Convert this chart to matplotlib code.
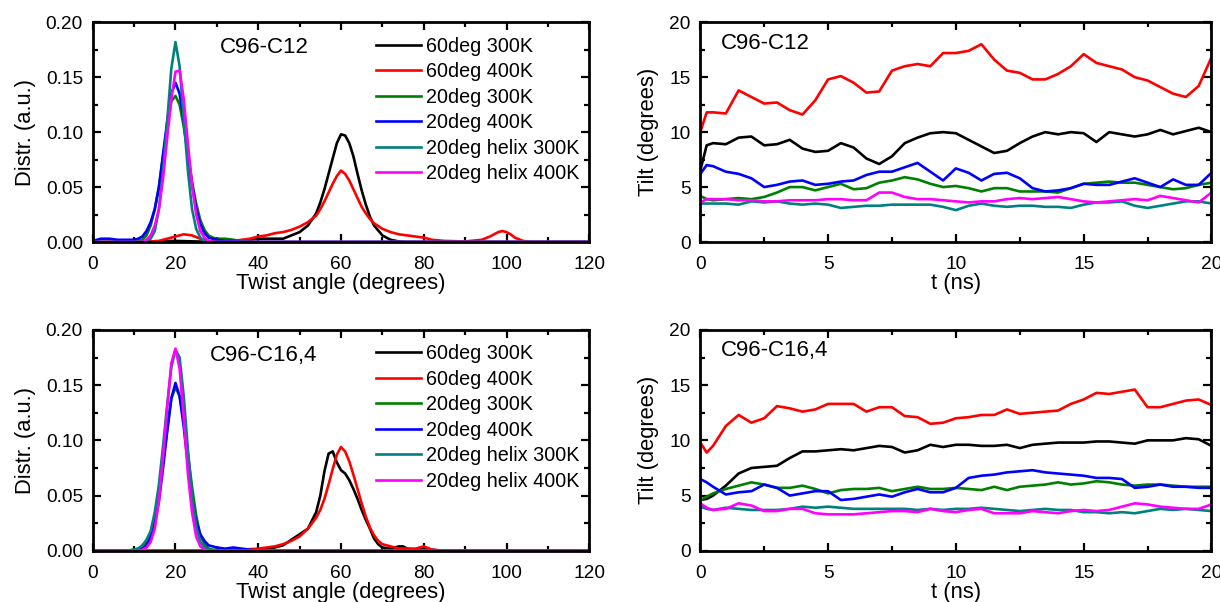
import numpy as np
import matplotlib
matplotlib.use("Agg")
import matplotlib.pyplot as plt
from matplotlib.ticker import MultipleLocator

plt.rcParams["font.family"] = ["Liberation Sans", "DejaVu Sans"]

labels = ["60deg 300K", "60deg 400K", "20deg 300K", "20deg 400K",
          "20deg helix 300K", "20deg helix 400K"]
colors = ["black", "red", "green", "blue", "teal", "magenta"]

# ---- twist angle distributions, C96-C12 (top left) ----
tl_black_x = [0, 10, 20, 30, 36, 38, 40, 42, 44, 46, 48, 50, 52, 54, 55, 56, 57, 58, 59, 60,
              61, 62, 63, 64, 65, 66, 67, 68, 70, 72, 74, 76, 80, 100, 120]
tl_black_y = [0, 0, 0.001, 0, 0.001, 0.002, 0.003, 0.003, 0.003, 0.003, 0.006, 0.009, 0.015,
              0.026, 0.036, 0.048, 0.062, 0.076, 0.09, 0.098, 0.097, 0.09, 0.078, 0.062, 0.047,
              0.034, 0.023, 0.015, 0.006, 0.002, 0.0005, 0, 0, 0, 0]
tl_red_x = [0, 12, 16, 18, 20, 22, 24, 26, 28, 30, 34, 36, 38, 40, 42, 44, 46, 48, 50, 52, 54,
            55, 56, 57, 58, 59, 60, 61, 62, 63, 64, 65, 66, 67, 68, 70, 72, 74, 76, 78, 80, 82,
            85, 90, 94, 96, 97, 98, 99, 100, 101, 102, 104, 106, 110, 120]
tl_red_y = [0, 0, 0.001, 0.003, 0.005, 0.007, 0.006, 0.003, 0.001, 0, 0.001, 0.002, 0.003,
            0.005, 0.006, 0.008, 0.009, 0.011, 0.014, 0.018, 0.024, 0.03, 0.037, 0.045, 0.053,
            0.06, 0.065, 0.062, 0.056, 0.048, 0.04, 0.032, 0.026, 0.021, 0.017, 0.012, 0.009,
            0.007, 0.006, 0.005, 0.004, 0.002, 0.001, 0.0005, 0.002, 0.005, 0.007, 0.009, 0.01,
            0.009, 0.007, 0.004, 0.001, 0, 0, 0]

# shared grid for the 20deg runs
x20 = [0, 2, 4, 6, 8, 10, 11, 12, 13, 14, 15, 16, 17, 18, 19, 20, 21, 22, 23, 24, 25, 26, 27,
       28, 29, 30, 32, 34, 36, 38, 40, 50, 60, 80, 100, 120]
tl_green_y = [0, 0, 0, 0, 0, 0.001, 0.001, 0.002, 0.006, 0.015, 0.03, 0.05, 0.078, 0.105, 0.128,
              0.133, 0.125, 0.105, 0.08, 0.055, 0.035, 0.02, 0.011, 0.006, 0.004, 0.003, 0.003,
              0.002, 0.001, 0, 0, 0, 0, 0, 0, 0]
tl_blue_y = [0.001, 0.003, 0.003, 0.002, 0.002, 0.002, 0.003, 0.005, 0.01, 0.018, 0.03, 0.05,
             0.08, 0.11, 0.135, 0.145, 0.135, 0.11, 0.08, 0.052, 0.03, 0.016, 0.008, 0.004,
             0.003, 0.002, 0.001, 0.001, 0, 0, 0, 0, 0, 0, 0, 0]
tl_teal_y = [0, 0, 0, 0, 0, 0, 0, 0, 0.001, 0.003, 0.01, 0.03, 0.065, 0.11, 0.158, 0.182, 0.16,
             0.112, 0.065, 0.03, 0.012, 0.004, 0.001, 0, 0, 0, 0, 0, 0, 0, 0, 0, 0, 0, 0, 0]
tl_magenta_y = [0, 0, 0, 0, 0, 0, 0, 0, 0.002, 0.006, 0.015, 0.03, 0.058, 0.095, 0.13, 0.155,
                0.156, 0.13, 0.09, 0.052, 0.025, 0.01, 0.004, 0.001, 0, 0, 0, 0, 0, 0, 0, 0, 0,
                0, 0, 0]

# ---- twist angle distributions, C96-C16,4 (bottom left) ----
bl_black_x = [0, 20, 30, 38, 40, 42, 44, 46, 48, 50, 52, 54, 55, 56, 57, 58, 59, 60, 61, 62, 63,
              64, 65, 66, 67, 68, 69, 70, 72, 74, 75, 76, 78, 80, 82, 85, 90, 120]
bl_black_y = [0, 0, 0, 0.001, 0.001, 0.002, 0.003, 0.005, 0.01, 0.015, 0.02, 0.035, 0.05, 0.072,
              0.088, 0.09, 0.08, 0.073, 0.07, 0.064, 0.056, 0.047, 0.037, 0.028, 0.02, 0.011,
              0.006, 0.003, 0.002, 0.004, 0.004, 0.002, 0.001, 0.003, 0.001, 0, 0, 0]
bl_red_x = [0, 30, 36, 40, 44, 46, 48, 50, 52, 54, 55, 56, 57, 58, 59, 60, 61, 62, 63, 64, 65,
            66, 67, 68, 69, 70, 72, 74, 76, 78, 80, 82, 85, 90, 120]
bl_red_y = [0, 0, 0.001, 0.002, 0.004, 0.006, 0.009, 0.013, 0.02, 0.03, 0.037, 0.047, 0.06,
            0.074, 0.087, 0.094, 0.09, 0.081, 0.069, 0.056, 0.043, 0.031, 0.021, 0.014, 0.009,
            0.006, 0.004, 0.002, 0.002, 0.002, 0.004, 0.001, 0, 0, 0]
bl_green_y = [0, 0, 0, 0, 0, 0.001, 0.002, 0.004, 0.008, 0.015, 0.03, 0.05, 0.08, 0.11, 0.138,
              0.148, 0.14, 0.118, 0.088, 0.058, 0.032, 0.014, 0.006, 0.002, 0.001, 0.001, 0, 0,
              0, 0, 0, 0, 0, 0, 0, 0]
bl_blue_y = [0, 0, 0, 0, 0, 0.0005, 0.001, 0.002, 0.005, 0.012, 0.025, 0.045, 0.075, 0.108,
             0.138, 0.152, 0.14, 0.112, 0.078, 0.048, 0.027, 0.015, 0.009, 0.005, 0.004, 0.003,
             0.002, 0.003, 0.002, 0.001, 0, 0, 0, 0, 0, 0]
bl_teal_y = [0, 0, 0, 0, 0, 0.001, 0.002, 0.005, 0.01, 0.018, 0.035, 0.06, 0.095, 0.132, 0.166,
             0.182, 0.175, 0.14, 0.092, 0.05, 0.022, 0.008, 0.003, 0.001, 0, 0, 0, 0, 0, 0, 0,
             0, 0, 0, 0, 0]
bl_magenta_y = [0, 0, 0, 0, 0, 0, 0, 0.001, 0.003, 0.008, 0.02, 0.045, 0.085, 0.13, 0.17, 0.183,
                0.165, 0.12, 0.07, 0.035, 0.013, 0.004, 0.001, 0, 0, 0, 0, 0, 0, 0, 0, 0, 0, 0,
                0, 0]

# ---- tilt vs time ----
t_ns = [0, 0.25, 0.5, 1.0, 1.5, 2.0, 2.5, 3.0, 3.5, 4.0, 4.5, 5.0, 5.5, 6.0, 6.5, 7.0, 7.5, 8.0,
        8.5, 9.0, 9.5, 10.0, 10.5, 11.0, 11.5, 12.0, 12.5, 13.0, 13.5, 14.0, 14.5, 15.0, 15.5,
        16.0, 16.5, 17.0, 17.5, 18.0, 18.5, 19.0, 19.5, 20.0]

tr_black = [6.5, 8.8, 9.0, 8.9, 9.5, 9.6, 8.8, 8.9, 9.3, 8.5, 8.2, 8.3, 9.0, 8.6, 7.6, 7.1, 7.8,
            9.0, 9.5, 9.9, 10.0, 9.9, 9.3, 8.7, 8.1, 8.3, 9.0, 9.6, 10.0, 9.8, 10.0, 9.9, 9.1,
            10.0, 9.8, 9.6, 9.8, 10.2, 9.8, 10.1, 10.4, 10.0]
tr_red = [10.0, 11.8, 11.8, 11.7, 13.8, 13.2, 12.6, 12.7, 12.0, 11.6, 12.9, 14.8, 15.1, 14.5,
          13.6, 13.7, 15.6, 16.0, 16.2, 16.0, 17.2, 17.2, 17.4, 18.0, 16.6, 15.6, 15.4, 14.8,
          14.8, 15.3, 16.0, 17.1, 16.3, 16.0, 15.7, 15.0, 14.7, 14.1, 13.5, 13.2, 14.2, 16.8]
tr_green = [4.2, 3.9, 3.8, 3.9, 4.0, 3.9, 4.1, 4.5, 5.0, 5.0, 4.7, 5.0, 5.3, 4.8, 4.9, 5.4, 5.6,
            5.9, 5.7, 5.3, 5.0, 5.1, 4.9, 4.6, 4.9, 4.9, 4.6, 4.6, 4.6, 4.5, 4.9, 5.3, 5.4, 5.5,
            5.4, 5.4, 5.2, 5.0, 4.8, 4.9, 5.2, 5.4]
tr_blue = [6.2, 7.0, 6.9, 6.4, 6.2, 5.8, 5.0, 5.2, 5.5, 5.6, 5.2, 5.3, 5.5, 5.6, 6.1, 6.4, 6.4,
           6.8, 7.2, 6.4, 5.6, 6.7, 6.3, 5.6, 6.2, 6.3, 5.8, 4.9, 4.6, 4.7, 4.9, 5.3, 5.2, 5.2,
           5.5, 5.8, 5.4, 5.0, 5.7, 5.2, 5.2, 6.3]
tr_teal = [3.5, 3.5, 3.5, 3.5, 3.4, 3.7, 3.6, 3.7, 3.5, 3.4, 3.5, 3.4, 3.1, 3.2, 3.3, 3.3, 3.4,
           3.4, 3.4, 3.4, 3.2, 2.9, 3.3, 3.5, 3.3, 3.2, 3.3, 3.3, 3.2, 3.2, 3.1, 3.4, 3.6, 3.6,
           3.7, 3.3, 3.1, 3.3, 3.5, 3.7, 3.7, 3.5]
tr_magenta = [3.6, 3.9, 3.9, 3.9, 3.8, 3.8, 3.7, 3.7, 3.8, 3.8, 3.8, 3.9, 3.9, 3.8, 3.8, 4.5,
              4.5, 4.1, 3.9, 3.9, 3.8, 3.7, 3.6, 3.7, 3.7, 3.9, 4.0, 3.9, 4.0, 4.1, 3.9, 3.7,
              3.6, 3.7, 3.8, 3.9, 3.8, 4.2, 4.0, 3.8, 3.6, 4.5]

br_black = [4.6, 4.7, 5.0, 5.9, 7.0, 7.5, 7.6, 7.7, 8.4, 9.0, 9.0, 9.1, 9.2, 9.1, 9.3, 9.5, 9.4,
            8.9, 9.1, 9.6, 9.4, 9.6, 9.6, 9.5, 9.5, 9.6, 9.3, 9.6, 9.7, 9.8, 9.8, 9.8, 9.9, 9.9,
            9.8, 9.7, 10.0, 10.0, 10.0, 10.2, 10.1, 9.5]
br_red = [9.8, 8.9, 9.5, 11.3, 12.3, 11.6, 12.0, 13.1, 12.9, 12.6, 12.8, 13.3, 13.3, 13.3, 12.6,
          13.0, 13.0, 12.2, 12.1, 11.5, 11.6, 12.0, 12.1, 12.3, 12.3, 12.8, 12.4, 12.5, 12.6,
          12.7, 13.3, 13.7, 14.3, 14.2, 14.4, 14.6, 13.0, 13.0, 13.3, 13.6, 13.7, 13.2]
br_green = [4.6, 4.9, 5.2, 5.6, 5.9, 6.2, 6.0, 5.7, 5.7, 5.9, 5.6, 5.2, 5.5, 5.6, 5.6, 5.7, 5.4,
            5.6, 5.8, 5.6, 5.6, 5.7, 5.6, 5.5, 5.8, 5.5, 5.8, 5.9, 6.0, 6.2, 6.0, 6.1, 6.3, 6.2,
            6.0, 5.9, 6.0, 6.0, 5.9, 5.8, 5.8, 5.8]
br_blue = [6.5, 6.2, 5.8, 5.1, 5.3, 5.4, 6.0, 5.7, 5.0, 5.2, 5.4, 5.4, 4.6, 4.7, 4.9, 5.1, 4.9,
           5.3, 5.6, 5.3, 5.3, 5.7, 6.6, 6.8, 6.9, 7.1, 7.2, 7.3, 7.1, 7.0, 6.9, 6.8, 6.6, 6.6,
           6.5, 5.7, 5.8, 6.0, 5.8, 5.8, 5.7, 5.7]
br_teal = [4.0, 3.8, 3.7, 3.9, 3.8, 3.7, 3.7, 3.7, 3.8, 4.0, 3.9, 4.0, 3.9, 3.8, 3.8, 3.8, 3.8,
           3.8, 3.7, 3.8, 3.7, 3.8, 3.8, 3.9, 3.8, 3.7, 3.6, 3.7, 3.8, 3.7, 3.7, 3.5, 3.5, 3.4,
           3.5, 3.4, 3.6, 3.8, 3.7, 3.8, 3.7, 3.6]
br_magenta = [4.3, 3.9, 3.7, 3.8, 4.3, 4.1, 3.6, 3.6, 3.8, 3.8, 3.4, 3.3, 3.3, 3.3, 3.4, 3.5, 3.6,
              3.6, 3.5, 3.8, 3.6, 3.5, 3.7, 3.8, 3.4, 3.4, 3.4, 3.6, 3.5, 3.4, 3.6, 3.7, 3.6,
              3.7, 4.0, 4.3, 4.2, 4.0, 3.9, 3.8, 3.8, 4.2]


def style_axes(ax, xmax, xmaj, xmin, ymax, ymaj, ymin):
    ax.set_xlim(0, xmax)
    ax.set_ylim(0, ymax)
    ax.xaxis.set_major_locator(MultipleLocator(xmaj))
    ax.xaxis.set_minor_locator(MultipleLocator(xmin))
    ax.yaxis.set_major_locator(MultipleLocator(ymaj))
    ax.yaxis.set_minor_locator(MultipleLocator(ymin))
    ax.tick_params(which="both", direction="in", top=True, right=True, width=1.6,
                   labelsize=13.8)
    ax.tick_params(axis="x", which="both", pad=10)
    ax.tick_params(axis="y", which="both", pad=7)
    ax.tick_params(which="major", length=6)
    ax.tick_params(which="minor", length=3.5)
    for sp in ax.spines.values():
        sp.set_linewidth(2)


def plot_distr(ax, series, title):
    for (x, y), c, lab in zip(series, colors, labels):
        ax.plot(x, y, color=c, lw=1.9, label=lab)
    style_axes(ax, 120, 20, 10, 0.20, 0.05, 0.025)
    ax.yaxis.set_major_formatter(plt.FormatStrFormatter("%.2f"))
    ax.set_xlabel("Twist angle (degrees)", fontsize=15.8, labelpad=0)
    ax.set_ylabel("Distr. (a.u.)", fontsize=15.8, labelpad=7)
    ax.text(0.345, 0.885, title, transform=ax.transAxes, fontsize=16,
            ha="center", va="center")
    ax.legend(loc="upper left", bbox_to_anchor=(0.57, 0.935), frameon=False,
              fontsize=14.2, handlelength=2.3, handletextpad=0.25, labelspacing=0.33,
              borderpad=0, borderaxespad=0)


def plot_tilt(ax, series, title):
    for y, c in zip(series, colors):
        ax.plot(t_ns, y, color=c, lw=1.9)
    style_axes(ax, 20, 5, 2.5, 20, 5, 2.5)
    ax.set_xlabel("t (ns)", fontsize=15.8, labelpad=0)
    ax.set_ylabel("Tilt (degrees)", fontsize=15.8, labelpad=7)
    ax.text(0.04, 0.905, title, transform=ax.transAxes, fontsize=16,
            ha="left", va="center")


fig = plt.figure(figsize=(12.2, 6.02), dpi=100)
ax_tl = fig.add_axes([0.076, 0.598, 0.407, 0.365])
ax_tr = fig.add_axes([0.574, 0.598, 0.419, 0.365])
ax_bl = fig.add_axes([0.076, 0.085, 0.407, 0.367])
ax_br = fig.add_axes([0.574, 0.085, 0.419, 0.367])

plot_distr(ax_tl, [(tl_black_x, tl_black_y), (tl_red_x, tl_red_y), (x20, tl_green_y),
                   (x20, tl_blue_y), (x20, tl_teal_y), (x20, tl_magenta_y)], "C96-C12")
plot_distr(ax_bl, [(bl_black_x, bl_black_y), (bl_red_x, bl_red_y), (x20, bl_green_y),
                   (x20, bl_blue_y), (x20, bl_teal_y), (x20, bl_magenta_y)], "C96-C16,4")
plot_tilt(ax_tr, [tr_black, tr_red, tr_green, tr_blue, tr_teal, tr_magenta], "C96-C12")
plot_tilt(ax_br, [br_black, br_red, br_green, br_blue, br_teal, br_magenta], "C96-C16,4")

fig.savefig("out.png", dpi=100)
